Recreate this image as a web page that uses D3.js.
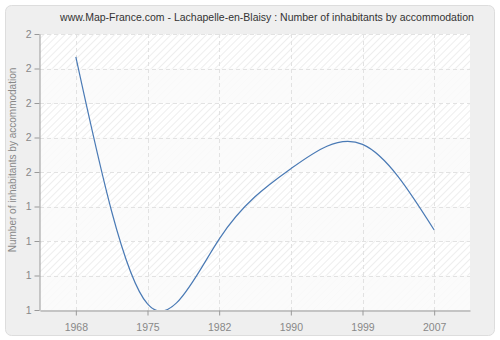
<!DOCTYPE html>
<html>
<head>
<meta charset="utf-8">
<script src="https://cdn.jsdelivr.net/npm/d3@7"></script>
<style>
  body { margin: 0; background: #fff; }
  svg text { font-family: "Liberation Sans", Arial, sans-serif; }
</style>
</head>
<body>
<div id="chart"></div>
<script>
// data
const years = ['1968', '1975', '1982', '1990', '1999', '2007'];
const values = [1.917, 1.022, 1.257, 1.512, 1.60, 1.29];
const yTicks = [1, 1.125, 1.25, 1.375, 1.5, 1.625, 1.75, 1.875, 2];

const width = 500, height = 340;
const margin = { top: 34, right: 30, bottom: 30, left: 40 };

const svg = d3.select('#chart').append('svg')
    .attr('width', width)
    .attr('height', height);

const defs = svg.append('defs');
const hatch = defs.append('pattern')
    .attr('id', 'hatch')
    .attr('patternUnits', 'userSpaceOnUse')
    .attr('width', 5)
    .attr('height', 5)
    .attr('patternTransform', 'rotate(45)');
hatch.append('rect').attr('width', 5).attr('height', 5).attr('fill', '#ffffff');
hatch.append('line')
    .attr('x1', 0).attr('y1', 0).attr('x2', 0).attr('y2', 5)
    .attr('stroke', '#e3e3e3').attr('stroke-width', 1.2);

defs.append('clipPath').attr('id', 'plotclip')
    .append('rect')
    .attr('x', margin.left)
    .attr('y', margin.top)
    .attr('width', width - margin.left - margin.right)
    .attr('height', height - margin.top - margin.bottom);

// outer frame
svg.append('rect')
    .attr('x', 5.5).attr('y', 5.5)
    .attr('width', 489).attr('height', 330)
    .attr('rx', 6)
    .attr('fill', '#efefef')
    .attr('stroke', '#dddddd');

const x = d3.scalePoint()
    .domain(years)
    .range([margin.left, width - margin.right])
    .padding(0.5);

const y = d3.scaleLinear()
    .domain([1, 2])
    .range([height - margin.bottom, margin.top]);

// plot background
svg.append('rect')
    .attr('x', margin.left)
    .attr('y', margin.top)
    .attr('width', width - margin.left - margin.right)
    .attr('height', height - margin.top - margin.bottom)
    .attr('fill', 'url(#hatch)');

// alternating lighter bands
const bands = d3.pairs(yTicks).filter((d, i) => i % 2 === 0);
svg.append('g').selectAll('rect')
    .data(bands)
    .join('rect')
    .attr('x', margin.left)
    .attr('width', width - margin.left - margin.right)
    .attr('y', d => y(d[1]))
    .attr('height', d => y(d[0]) - y(d[1]))
    .attr('fill', '#fafafa')
    .attr('fill-opacity', 0.85);

// grid
const grid = svg.append('g').attr('stroke', '#e2e2e2').attr('stroke-dasharray', '4,3');
grid.selectAll('.hg')
    .data(yTicks.slice(1))
    .join('line')
    .attr('x1', margin.left).attr('x2', width - margin.right)
    .attr('y1', d => Math.round(y(d)) + 0.5).attr('y2', d => Math.round(y(d)) + 0.5);
grid.selectAll('.vg')
    .data(years)
    .join('line')
    .attr('x1', d => Math.round(x(d)) + 0.5).attr('x2', d => Math.round(x(d)) + 0.5)
    .attr('y1', margin.top).attr('y2', height - margin.bottom);

// curve
const line = d3.line()
    .x((d, i) => x(years[i]))
    .y(d => y(d))
    .curve(d3.curveNatural);

svg.append('path')
    .datum(values)
    .attr('clip-path', 'url(#plotclip)')
    .attr('fill', 'none')
    .attr('stroke', '#4a7ab5')
    .attr('stroke-width', 1.2)
    .attr('d', line);

// axes
const xAxis = svg.append('g')
    .attr('transform', `translate(0,${height - margin.bottom + 0.5})`)
    .call(d3.axisBottom(x).tickSize(5).tickSizeOuter(0));
const yAxis = svg.append('g')
    .attr('transform', `translate(${margin.left - 0.5},0)`)
    .call(d3.axisLeft(y).tickValues(yTicks).tickFormat(d3.format('.0f')).tickSize(5).tickSizeOuter(0));

[xAxis, yAxis].forEach(a => {
    a.select('.domain').attr('stroke', '#999999');
    a.selectAll('.tick line').attr('stroke', '#999999');
    a.selectAll('.tick text')
        .attr('fill', '#888888')
        .attr('font-size', 10.5)
        .attr('font-family', '"Liberation Sans", Arial, sans-serif');
});
xAxis.selectAll('.tick text').attr('dy', '1.2em');
yAxis.selectAll('.tick text').attr('x', -8);

// title
svg.append('text')
    .attr('x', 267)
    .attr('y', 21)
    .attr('text-anchor', 'middle')
    .attr('font-size', 10.5)
    .attr('fill', '#333333')
    .text('www.Map-France.com - Lachapelle-en-Blaisy : Number of inhabitants by accommodation');

// y axis title
svg.append('text')
    .attr('transform', 'translate(16,160) rotate(-90)')
    .attr('text-anchor', 'middle')
    .attr('font-size', 10)
    .attr('fill', '#888888')
    .text('Number of inhabitants by accommodation');
</script>
</body>
</html>
